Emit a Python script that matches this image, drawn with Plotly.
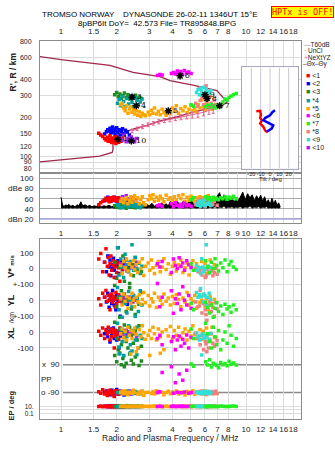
import plotly.graph_objects as go

W, H = 335, 451
FONT = "Liberation Sans, Arial, sans-serif"

# ---------------- axis ticks ----------------
FREQ_TICKS = [1, 1.5, 2, 3, 4, 5, 6, 7, 8, 10, 12, 14, 16, 18]
FREQ_TICKS_MID = [1, 1.5, 2, 3, 4, 5, 6, 7, 8, 9, 10, 12, 14, 16, 18]
HEIGHT_TICKS = [80, 90, 100, 120, 150, 200, 300, 400, 600, 800]
DB_TICKS = [20, 40, 60, 80, 100]
DB_TICKTEXT = ["dBn 20", "40", "60", "dBe 80", "100"]
TILT_TICKS = [-20, -10, 0, 10, 20]

# ---------------- model profile (dark red) ----------------
MODEL_F = [0.76, 1.0, 1.84, 2.45, 3.43, 3.88, 5.17, 6.96, 7.9, 7.4, 6.39, 5.17, 4.23,
           3.43, 2.92, 2.42, 2.0, 1.91, 1.91, 1.89, 1.62, 1.08, 0.76]
MODEL_H = [611, 578, 520, 458, 424, 395, 364, 329, 267, 250, 239, 223, 204,
           190, 175, 163, 145, 130, 113, 107, 100, 94, 90]

# ---------------- NeXtYZ (pink, with bars) ----------------
NEXT_F = [2.42, 2.58, 2.76, 2.95, 3.15, 3.38, 3.62, 3.88, 4.15, 4.45, 4.78, 5.12, 5.50, 5.90, 6.30, 6.65]
NEXT_H = [158, 165, 171, 177, 182, 187, 191, 195, 199, 203, 207, 211, 215, 222, 230, 236]
NEXT_ERR = [5, 5, 6, 6, 6, 7, 7, 8, 8, 9, 10, 11, 12, 14, 16, 18]

# ---------------- tilt inset ----------------
TILTX_DEG = [-14.7, -10.5, -9.8, -10.5, -8.7, -10.5, -7.0, -5.3, -2.8]
TILTX_H = [226, 228, 212, 200, 192, 181, 170, 160, 154]
TILTY_DEG = [5.3, 2.8, 0, -5.3, -7.0, -1.8, 3.5, 1.8, -1.8, -3.5]
TILTY_H = [230, 223, 210, 200, 192, 184, 175, 165, 160, 156]
TILT_RANGE = [-30, 30]
TILT_H_RANGE = [80, 500]

# ---------------- T60dB noise trace ----------------
NOISE_F = [1.00, 1.02, 1.04, 1.06, 1.08, 1.10, 1.13, 1.16, 1.19, 1.22, 1.25, 1.28, 1.31, 1.35, 1.39,
           1.43, 1.47, 1.51, 1.55, 1.60, 1.65, 1.70, 1.76, 1.82, 1.88, 1.94, 2.0, 2.1, 2.2, 2.3,
           2.4, 2.5, 2.6, 2.7, 2.8, 2.9, 3.0, 3.1, 3.2, 3.3, 3.4, 3.5, 3.6, 3.7, 3.8, 3.9, 4.0,
           4.2, 4.4, 4.6, 4.8, 5.0, 5.2, 5.4, 5.6, 5.8, 6.0, 6.2, 6.4, 6.6, 6.8, 7.0, 7.2, 7.4,
           7.6, 7.8, 8.0, 8.2, 8.4, 8.6, 8.8, 9.0, 9.3, 9.6, 9.9, 10.2, 10.5, 10.8, 11.1, 11.4,
           11.7, 12.0, 12.3, 12.6, 12.9, 13.2, 13.5, 13.8, 14.1, 14.4, 14.7, 15.0, 15.3]
NOISE_TOP = [63, 47, 45, 48, 46, 49, 45, 47, 44, 48, 46, 54, 46, 48, 45,
             47, 44, 46, 45, 47, 44, 46, 45, 47, 44, 46, 45, 47, 44, 46,
             45, 48, 44, 47, 45, 49, 46, 51, 45, 48, 46, 52, 47, 50, 46, 55, 48,
             58, 47, 56, 49, 60, 50, 57, 48, 62, 52, 64, 50, 61, 53, 66, 72, 55,
             68, 52, 62, 56, 64, 52, 60, 54, 63, 73, 58, 70, 62, 68, 56, 66,
             59, 67, 55, 64, 52, 58, 48, 61, 50, 57, 47, 52, 44]
NOISE_BASE = [42, 41, 42, 41, 42, 41, 42, 41, 42, 41, 42, 41, 42, 41, 42,
              41, 42, 41, 42, 41, 42, 41, 42, 41, 42, 41, 42, 41, 42, 41,
              42, 41, 42, 41, 42, 41, 42, 41, 42, 41, 42, 41, 42, 41, 42, 41, 42,
              41, 42, 41, 42, 41, 42, 41, 42, 41, 42, 41, 43, 41, 44, 41, 43, 42,
              45, 41, 43, 42, 44, 41, 43, 42, 44, 41, 43, 42, 45, 41, 43, 42,
              44, 41, 43, 42, 44, 41, 42, 41, 42, 41, 42, 41, 42]

# ---------------- echo classes: freq, height, amplitude, V*, YL, XL, PP, EP ----------------
RED_F = [1.60, 1.64, 1.68, 1.72, 1.75, 1.78, 1.80, 1.82, 1.84, 1.86, 1.88, 1.90, 1.92, 1.94, 1.96, 1.98, 2.00, 2.02, 2.05, 2.08, 2.11, 2.15]
RED_H = [152, 147, 143, 138, 134, 141, 131, 137, 145, 133, 128, 139, 135, 130, 142, 126, 134, 138, 129, 136, 131, 140]
RED_DB = [48, 52, 55, 58, 61, 57, 60, 54, 62, 58, 56, 60, 63, 57, 59, 61, 55, 58, 62, 56, 53, 50]
RED_V = [60, 95, -20, 40, 125, 15, 70, -40, 30, 80, -10, 50, 20, -56, 10, 45, -25, 35, 5, -80, 25, -5]
RED_YL = [10, -30, 45, 20, 62, -5, 30, 0, -60, 15, 40, -12, 25, 5, -40, 50, -20, 10, 35, -5, 20, 0]
RED_XL = [5, -20, 25, -40, 10, -10, 31, 0, -50, 15, -30, 20, -5, -100, 10, -25, 5, -15, -45, 25, -10, 0]
RED_PP = [-85, -95, -72, -100, -88, -110, -80, -92, -75, -98, -90, -105, -84, -116, -90, -78, -96, -88, -102, -82, -94, -90]
RED_EP = [10, 12, 8, 11, 9, 10, 13, 9, 11, 10, 8, 12, 10, 9, 11, 10, 12, 9, 10, 11, 8, 10]

BLUE_F = [1.72, 1.76, 1.79, 1.82, 1.84, 1.86, 1.88, 1.90, 1.92, 1.94, 1.96, 1.98, 2.00, 2.03, 2.06, 2.09, 2.12, 2.15, 2.19, 2.23, 2.28, 2.34]
BLUE_H = [150, 156, 162, 158, 166, 152, 160, 170, 155, 164, 148, 158, 168, 153, 162, 146, 157, 165, 150, 160, 155, 147]
BLUE_DB = [56, 60, 63, 58, 61, 55, 62, 59, 57, 63, 60, 56, 61, 58, 54, 60, 57, 52, 55, 58, 53, 50]
BLUE_V = [40, -20, 80, 10, 55, -45, 25, 0, 65, -10, 35, -56, 20, 50, -30, 15, 45, -5, 30, 60, -15, 5]
BLUE_YL = [20, -10, 45, -44, 5, 30, -20, 62, 0, -30, 15, -60, 35, -5, 25, -100, 10, -15, 40, 0, -25, 20]
BLUE_XL = [-10, 15, -30, 5, -62, 20, -20, 0, 25, -40, 10, -15, -50, 5, -100, -25, 15, -5, -35, 10, -20, 0]
BLUE_PP = [-90, -80, -98, -86, -104, -92, -76, -95, -88, -110, -84, -94, -70, -100, -90, -82, -96, -88, -106, -92, -86, -98]
BLUE_EP = [11, 9, 10, 12, 8, 10, 11, 9, 13, 10, 9, 11, 10, 12, 9, 10, 8, 11, 10, 9, 12, 10]

DGREEN_F = [1.95, 2.00, 2.04, 2.08, 2.12, 2.16, 2.20, 2.25, 2.30, 2.35, 2.40, 2.46, 2.52, 2.58, 2.64, 2.72]
DGREEN_H = [305, 318, 296, 310, 285, 300, 315, 290, 305, 282, 298, 288, 302, 280, 292, 285]
DGREEN_DB = [46, 43, 48, 42, 50, 44, 47, 41, 49, 45, 43, 48, 42, 46, 44, 47]
DGREEN_V = [40, -60, 131, 10, -30, 80, -80, 55, 0, -94, 25, -45, 70, -10, 35, -20]
DGREEN_YL = [94, -40, 20, -106, 60, -10, 40, -70, 5, 80, -55, 30, -90, 15, -25, 50]
DGREEN_XL = [62, -40, -112, 20, -80, 0, 45, -60, -100, 30, -20, -70, 10, -50, 40, -90]
DGREEN_PP = [150, 110, -90, 167, 90, 130, 77, 100, -88, 160, 120, 95, 140, -92, 85, 115]
DGREEN_EP = [10, 9, 11, 10, 12, 8, 10, 11, 9, 10, 13, 10, 9, 11, 10, 12]

TEAL_F = [2.02, 2.06, 2.10, 2.14, 2.18, 2.22, 2.27, 2.32, 2.37, 2.42, 2.47, 2.52, 2.57, 2.62, 2.68, 2.74]
TEAL_H = [262, 280, 250, 295, 270, 245, 285, 258, 300, 266, 248, 290, 275, 255, 268, 282]
TEAL_DB = [48, 44, 52, 42, 55, 46, 50, 43, 53, 47, 45, 51, 44, 49, 42, 46]
TEAL_V = [131, -40, 60, 10, -56, 90, 25, -20, 45, 150, -10, 70, 0, 35, -30, 15]
TEAL_YL = [81, -60, 20, -106, 40, -20, -80, 55, 0, -40, 30, -100, 10, -70, 60, -30]
TEAL_XL = [56, -94, 20, -60, -150, 0, -30, 40, -80, -120, 10, -50, 30, -100, -20, -40]
TEAL_PP = [-90, 160, -86, -94, 150, -100, -80, -92, 170, -88, -96, -84, 155, -90, -98, -82]
TEAL_EP = [10, 11, 9, 10, 12, 10, 8, 11, 10, 9, 12, 10, 11, 9, 10, 10]

ORANGE_F = [2.10, 2.14, 2.18, 2.22, 2.26, 2.30, 2.34, 2.38, 2.42, 2.46, 2.50, 2.55, 2.60, 2.65, 2.70, 2.75, 2.80, 2.86,
            2.96, 3.02, 3.08, 3.14, 3.20, 3.28, 3.36, 3.44, 3.52, 3.60, 3.70, 3.80, 3.90, 4.00,
            4.10, 4.20, 4.32, 4.44, 4.56, 4.68, 4.80, 4.92, 5.04, 5.16, 5.28, 5.40,
            5.52, 5.64, 5.76, 5.88, 6.00, 6.12, 6.25, 6.40, 6.55, 6.75]
ORANGE_H = [255, 262, 240, 228, 250, 218, 236, 245, 222, 232, 215, 228, 210, 224, 207, 218, 212, 208,
            222, 212, 230, 218, 240, 215, 226, 212, 235, 220, 210, 228, 216, 240,
            225, 250, 218, 238, 228, 245, 220, 235, 252, 228, 240, 225,
            255, 240, 278, 248, 232, 262, 285, 245, 236, 250]
ORANGE_DB = [55, 60, 52, 58, 62, 50, 57, 64, 53, 60, 66, 55, 62, 50, 58, 64, 52, 48,
             58, 66, 60, 68, 55, 63, 57, 65, 60, 54, 67, 59, 62, 56,
             64, 58, 66, 60, 68, 55, 63, 57, 65, 60, 54, 62,
             58, 64, 55, 62, 50, 60, 66, 57, 52, 60]
ORANGE_V = [20, -30, 45, 5, 60, -15, 30, -40, 10, 50, -5, 25, -25, 40, 0, 62, -44, 15,
            35, -10, 55, 5, -30, 20, 45, -20, 10, 62, -5, 30, -35, 15,
            40, -15, 25, 55, -25, 5, 35, -40, 20, 50, -10, 30,
            10, -20, 45, 0, 30, -30, 15, 55, -10, 25]
ORANGE_YL = [10, -30, 40, -5, 25, -50, 15, -20, 45, 0, -40, 20, -10, 35, -25, 5, 50, -15,
             30, -35, 10, -10, 45, -45, 20, 0, -25, 40, -5, 15, -30, 25,
             -20, 35, 5, -40, 15, -10, 50, -30, 10, -5, 30, -50,
             20, -15, 0, 35, -35, 10, -60, 25, -20, 5]
ORANGE_XL = [-10, 20, -35, 5, -50, 30, -20, 10, -40, 0, 25, -15, -100, 15, -30, 40, -5, -45,
             -20, 10, -40, 30, -10, -50, 20, -30, 0, -112, 15, -25, 35, -45,
             10, -20, 30, -35, -5, 20, -50, 5, -25, 40, -15, -40,
             -30, 15, -45, 5, -20, 25, -60, -10, 30, -35]
ORANGE_PP = [-90, -84, -98, -80, -92, -105, -88, 160, -95, -76, -90, 175, -100, -86, -94, -82, -110, -90,
             -88, 150, -96, -84, -100, -78, -92, 165, -88, -104, -90, -82, -98, -86,
             -94, -80, -100, -88, -92, -106, -84, -96, -90, -78, -102, -88,
             -92, -84, -98, -90, -80, -104, -88, -94, -86, -96]
ORANGE_EP = [10, 11, 9, 12, 10, 8, 11, 10, 9, 13, 10, 11, 9, 10, 12, 9, 10, 11,
             10, 9, 11, 10, 12, 9, 10, 11, 8, 10, 12, 9, 10, 11,
             9, 10, 12, 10, 8, 11, 10, 9, 12, 10, 11, 9,
             10, 12, 9, 11, 10, 8, 10, 12, 9, 11]

MAGENTA_F = [3.32, 3.42, 3.52, 3.95, 4.05, 4.15, 4.25, 4.35, 4.45, 4.55, 4.65, 4.78, 4.90, 5.05]
MAGENTA_H = [432, 440, 436, 448, 458, 445, 470, 452, 465, 442, 475, 455, 462, 448]
MAGENTA_DB = [46, 48, 45, 50, 44, 52, 47, 45, 49, 44, 51, 46, 48, 45]
MAGENTA_V = [30, 10, 45, -25, 60, 20, 0, 69, 15, 35, -10, 50, 25, 5]
MAGENTA_YL = [106, -40, 20, 60, -81, 10, -20, 40, -60, 85, 0, -30, 30, -50]
MAGENTA_XL = [-40, -20, -80, -60, -30, -112, -50, -25, -90, -45, -70, -19, -100, -35]
MAGENTA_PP = [-90, -85, 40, 77, -95, -26, -88, 30, -92, -10, -86, 55, -94, -90]
MAGENTA_EP = [10, 11, 9, 10, 12, 10, 9, 11, 10, 12, 9, 10, 11, 10]

GREEN_F = [5.05, 5.20, 6.05, 6.20, 6.35, 6.50, 6.65, 6.80, 6.95, 7.10, 7.30, 7.50, 7.70, 7.90, 8.10, 8.30, 8.55, 8.85]
GREEN_H = [255, 248, 246, 252, 242, 256, 248, 240, 252, 246, 255, 268, 282, 276, 290, 298, 305, 312]
GREEN_DB = [58, 62, 64, 60, 62, 57, 63, 59, 61, 58, 62, 60, 64, 59, 63, 61, 65, 60]
GREEN_V = [30, -10, 50, 10, -25, 40, 0, 62, 20, -15, 35, 5, 55, -20, 25, 45, 10, -5]
GREEN_YL = [-20, -60, -12, -45, -80, -30, -106, -50, -15, -70, -35, -90, -25, -55, -40, -75, -30, -60]
GREEN_XL = [20, -40, 56, -10, -60, -100, 30, -30, -80, 10, -112, -50, 0, -70, 40, -20, -90, -40]
GREEN_PP = [95, 80, 110, 88, 122, 75, 100, 92, 85, 70, 105, 90, 98, 84, 112, 94, 102, 88]
GREEN_EP = [10, 11, 10, 9, 12, 10, 11, 10, 9, 10, 12, 11, 10, 9, 10, 11, 12, 10]

SALMON_F = [5.35, 5.50, 5.65, 5.78, 5.90, 6.02, 6.14, 6.26, 6.38, 6.50, 6.62, 6.74, 6.86, 6.98, 5.60, 6.08]
SALMON_H = [262, 248, 275, 290, 255, 282, 268, 250, 295, 262, 245, 278, 256, 248, 340, 360]
SALMON_DB = [48, 55, 60, 52, 58, 45, 62, 50, 57, 53, 48, 55, 60, 47, 52, 58]
SALMON_V = [0, -20, 6, -40, -10, -56, -5, -30, 5, -15, -45, -25, 0, -35, -10, -50]
SALMON_YL = [-10, -40, 62, -80, -20, -60, -125, -30, -5, -70, -45, -100, -15, -55, -35, -90]
SALMON_XL = [-6, -40, -80, -20, -112, -60, -30, -100, -50, -10, -70, -90, -35, -55, -25, -75]
SALMON_PP = [-90, -86, -96, -80, -92, -100, 175, -88, -94, -84, -98, -90, -82, -96, -88, -92]
SALMON_EP = [10, 11, 9, 10, 12, 10, 11, 9, 10, 10, 12, 9, 11, 10, 10, 9]

CYAN_F = [5.40, 5.50, 5.60, 5.68, 5.76, 5.84, 5.92, 6.00, 6.10, 6.20, 6.32, 6.45]
CYAN_H = [318, 335, 305, 345, 326, 310, 350, 300, 338, 322, 312, 330]
CYAN_DB = [50, 47, 55, 45, 52, 48, 57, 46, 51, 49, 53, 47]
CYAN_V = [19, -10, 5, -31, 62, 10, -20, 0, 150, 15, -25, 8]
CYAN_YL = [50, 19, 35, 75, 25, -10, 40, 30, -30, 20, 45, 5]
CYAN_XL = [-6, -30, -50, -20, -144, -10, -40, -25, -35, -15, -45, -8]
CYAN_PP = [-90, -86, -96, -88, -92, -100, -84, -94, -90, -82, -98, -88]
CYAN_EP = [10, 11, 9, 10, 12, 10, 11, 9, 10, 10, 12, 11]

PURPLE_F = [2.10, 2.15, 2.20, 2.25, 2.30, 2.35, 2.40, 2.45, 2.50, 2.56]
PURPLE_H = [140, 134, 146, 130, 138, 132, 142, 136, 130, 138]
PURPLE_DB = [58, 64, 52, 66, 60, 48, 62, 55, 50, 57]
PURPLE_V = [30, 10, 45, 20, -10, 35, 5, 25, 15, 40]
PURPLE_YL = [5, -15, 20, 0, 10, -5, 15, -10, 0, 10]
PURPLE_XL = [-15, 0, -25, 10, -5, -20, 5, -10, 0, -30]
PURPLE_PP = [-90, -84, -96, -88, -92, -80, -100, -90, -86, -94]
PURPLE_EP = [10, 11, 9, 10, 12, 10, 9, 11, 10, 10]

# black cluster markers with labels
STAR_F = [2.03, 2.42, 2.55, 3.80, 4.40, 7.20, 6.15, 6.00, 2.40]
STAR_H = [136, 292, 250, 228, 430, 250, 285, 305, 132]
STAR_LBL = ["1", "3", "4", "5", "6", "7", "8", "9", "10"]

LEGEND_LABELS = ["&lt;1", "&lt;2", "&lt;3", "*4", "*5", "&lt;6", "*7", "*8", "&lt;9", "&lt;10"]

GROUPS = [
    ("#0000ff", BLUE_F, BLUE_H, BLUE_DB, BLUE_V, BLUE_YL, BLUE_XL, BLUE_PP, BLUE_EP),
    ("#ff0000", RED_F, RED_H, RED_DB, RED_V, RED_YL, RED_XL, RED_PP, RED_EP),
    ("#a020f0", PURPLE_F, PURPLE_H, PURPLE_DB, PURPLE_V, PURPLE_YL, PURPLE_XL, PURPLE_PP, PURPLE_EP),
    ("#1e8c1e", DGREEN_F, DGREEN_H, DGREEN_DB, DGREEN_V, DGREEN_YL, DGREEN_XL, DGREEN_PP, DGREEN_EP),
    ("#00a0a0", TEAL_F, TEAL_H, TEAL_DB, TEAL_V, TEAL_YL, TEAL_XL, TEAL_PP, TEAL_EP),
    ("#ffa500", ORANGE_F, ORANGE_H, ORANGE_DB, ORANGE_V, ORANGE_YL, ORANGE_XL, ORANGE_PP, ORANGE_EP),
    ("#ff00ff", MAGENTA_F, MAGENTA_H, MAGENTA_DB, MAGENTA_V, MAGENTA_YL, MAGENTA_XL, MAGENTA_PP, MAGENTA_EP),
    ("#f08080", SALMON_F, SALMON_H, SALMON_DB, SALMON_V, SALMON_YL, SALMON_XL, SALMON_PP, SALMON_EP),
    ("#30e0d8", CYAN_F, CYAN_H, CYAN_DB, CYAN_V, CYAN_YL, CYAN_XL, CYAN_PP, CYAN_EP),
    ("#22ee22", GREEN_F, GREEN_H, GREEN_DB, GREEN_V, GREEN_YL, GREEN_XL, GREEN_PP, GREEN_EP),
]
LEGEND_COLORS = ["#ff0000", "#0000ff", "#1e8c1e", "#00a0a0", "#ffa500", "#ff00ff",
                 "#22ee22", "#f08080", "#30e0d8", "#a020f0"]


# ---------------- geometry helpers ----------------
def xp(px):
    return px / W


def yp(py):
    return 1 - py / H


fig = go.Figure()
MS = 3.5

# ---- top panel ----
fig.add_trace(go.Scatter(x=MODEL_F, y=MODEL_H, mode="lines", xaxis="x", yaxis="y",
                         line=dict(color="#a0284a", width=1.3), hoverinfo="skip"))
for col, f, h, db, v, yl, xl, pp, ep in GROUPS:
    fig.add_trace(go.Scatter(x=f, y=h, mode="markers", xaxis="x", yaxis="y",
                             marker=dict(symbol="square", size=MS, color=col, line=dict(width=0))))
fig.add_trace(go.Scatter(x=NEXT_F, y=NEXT_H, mode="lines", xaxis="x", yaxis="y",
                         line=dict(color="#e0608a", width=1),
                         error_y=dict(type="data", array=NEXT_ERR, color="#e0608a", thickness=1, width=1.5)))
fig.add_trace(go.Scatter(x=STAR_F, y=STAR_H, mode="markers+text", xaxis="x", yaxis="y",
                         text=STAR_LBL, textposition="middle right",
                         textfont=dict(size=8, color="black", family="DejaVu Serif"),
                         marker=dict(symbol="asterisk-open", size=6, color="black",
                                     line=dict(width=1.5, color="black"))))

# ---- tilt inset: white backdrop, grid, profiles ----
fig.add_trace(go.Scatter(x=[TILT_RANGE[0], TILT_RANGE[1], TILT_RANGE[1], TILT_RANGE[0]],
                         y=[TILT_H_RANGE[0], TILT_H_RANGE[0], TILT_H_RANGE[1], TILT_H_RANGE[1]],
                         mode="lines", fill="toself", fillcolor="white",
                         line=dict(width=0, color="white"), xaxis="x4", yaxis="y8", hoverinfo="skip"))
for tv in TILT_TICKS:
    fig.add_trace(go.Scatter(x=[tv, tv], y=TILT_H_RANGE, mode="lines", xaxis="x4", yaxis="y8",
                             line=dict(color="#c8c8d4", width=1), hoverinfo="skip"))
fig.add_trace(go.Scatter(x=TILTX_DEG, y=TILTX_H, mode="lines", xaxis="x4", yaxis="y8",
                         line=dict(color="#ff0000", width=2.5)))
fig.add_trace(go.Scatter(x=TILTY_DEG, y=TILTY_H, mode="lines", xaxis="x4", yaxis="y8",
                         line=dict(color="#0000ff", width=2.5)))

# ---- amplitude panel ----
fig.add_trace(go.Scatter(x=NOISE_F, y=NOISE_BASE, mode="lines", xaxis="x2", yaxis="y2",
                         line=dict(color="black", width=0.5)))
fig.add_trace(go.Scatter(x=NOISE_F, y=NOISE_TOP, mode="lines", xaxis="x2", yaxis="y2",
                         fill="tonexty", fillcolor="black", line=dict(color="black", width=1)))
for col, f, h, db, v, yl, xl, pp, ep in GROUPS:
    fig.add_trace(go.Scatter(x=f, y=db, mode="markers", xaxis="x2", yaxis="y2",
                             marker=dict(symbol="square", size=MS, color=col, line=dict(width=0))))

# ---- lower panels ----
for col, f, h, db, v, yl, xl, pp, ep in GROUPS:
    for vals, ya in ((v, "y3"), (yl, "y4"), (xl, "y5"), (pp, "y6"), (ep, "y7")):
        fig.add_trace(go.Scatter(x=f, y=vals, mode="markers", xaxis="x3", yaxis=ya,
                                 marker=dict(symbol="square", size=MS, color=col, line=dict(width=0))))

# ---------------- axes ----------------
XR = [-0.1135, 1.297]
XDOM = [xp(40), xp(301)]
tickfont = dict(size=8, family=FONT, color="#222")
tickfont_small = dict(size=7, family=FONT, color="#222")
GRID = "#dcdcdc"
FRAME = "#8c8c8c"


def xax(anchor, side, ticks):
    return dict(type="log", range=XR, domain=XDOM, anchor=anchor, side=side,
                tickvals=ticks, ticktext=[str(t) for t in ticks], tickangle=0,
                tickfont=tickfont, showgrid=True, gridcolor=GRID, gridwidth=1, zeroline=False,
                showline=True, linecolor=FRAME, mirror=True, ticks="outside", ticklen=2,
                tickcolor="rgba(0,0,0,0)")


def yax(rng, tickvals, ticktext, typ="linear", font=tickfont):
    return dict(type=typ, range=rng, anchor="x3", overlaying="y3",
                tickvals=tickvals, ticktext=ticktext, tickfont=font,
                showgrid=True, gridcolor=GRID, gridwidth=1, zeroline=False,
                showline=False, ticks="outside", ticklen=4, tickcolor="rgba(0,0,0,0)")


MID = [yp(420), yp(238)]
layout_axes = dict(
    xaxis=xax("y", "top", FREQ_TICKS),
    xaxis2=xax("y2", "bottom", FREQ_TICKS_MID),
    xaxis3=xax("y3", "bottom", FREQ_TICKS),
    xaxis4=dict(domain=[xp(242), xp(298)], range=TILT_RANGE, anchor="y8", side="bottom",
                tickvals=TILT_TICKS, ticktext=[str(t) for t in TILT_TICKS], tickangle=0,
                tickfont=dict(size=5.5, family=FONT, color="#222"), showgrid=False,
                zeroline=False, showline=True, linecolor="#a8a8bc",
                mirror=True, ticks="", ticklen=0),
    yaxis=dict(type="log", domain=[yp(172), yp(38)], range=[1.864, 2.911], anchor="x",
               tickvals=HEIGHT_TICKS, ticktext=[str(t) for t in HEIGHT_TICKS], tickfont=tickfont_small,
               showgrid=True, gridcolor=GRID, zeroline=False, showline=True, linecolor=FRAME,
               mirror=True, ticks="outside", ticklen=6, tickcolor="rgba(0,0,0,0)"),
    yaxis2=dict(domain=[yp(222), yp(172)], range=[12, 110], anchor="x2",
                tickvals=DB_TICKS, ticktext=DB_TICKTEXT, tickfont=tickfont,
                showgrid=True, gridcolor="#a8a8a8", zeroline=False, showline=True,
                linecolor=FRAME, mirror=True, ticks="outside", ticklen=4,
                tickcolor="rgba(0,0,0,0)"),
    yaxis3=dict(domain=MID, range=[-950, 187.5], anchor="x3",
                tickvals=[100, 0, -100], ticktext=["100", "0", "+-100"], tickfont=tickfont,
                showgrid=True, gridcolor=GRID, zeroline=False, showline=True, linecolor=FRAME,
                mirror=True, ticks="outside", ticklen=4, tickcolor="rgba(0,0,0,0)"),
    yaxis4=yax([-750, 387.5], [0, -100], ["0", "+-100"]),
    yaxis5=yax([-550, 587.5], [0, -100], ["0", "-100"]),
    yaxis6=dict(range=[-263.6, 906.4], anchor="x3", overlaying="y3",
                showticklabels=False, showgrid=False, zeroline=False, showline=False),
    yaxis7=yax([-2.714, 49.29], [10, 1, 0.1], ["10.", "", "0.1"], typ="log",
               font=dict(size=6.5, family=FONT, color="#222")),
    yaxis8=dict(type="log", domain=[yp(167), yp(65)], range=[1.903, 2.700], anchor="x4",
                showticklabels=False, showgrid=False, zeroline=False, showline=True,
                linecolor="#a8a8bc", mirror=True),
)

# ---------------- shapes ----------------
shapes = [
    dict(type="line", xref="paper", yref="y2", x0=xp(40), x1=xp(301), y0=20, y1=20,
         line=dict(color="#a8a8e0", width=1.5), layer="above"),
    dict(type="line", xref="paper", yref="y6", x0=xp(63), x1=xp(301), y0=90, y1=90,
         line=dict(color="#8a8a8a", width=1.5), layer="below"),
    dict(type="line", xref="paper", yref="y6", x0=xp(63), x1=xp(301), y0=-90, y1=-90,
         line=dict(color="#8a8a8a", width=1.5), layer="below"),
]

# ---------------- annotations ----------------
ann = []


def text(x, y, s, size=8, color="#222", xanchor="center", angle=0, bold=False, family=FONT):
    ann.append(dict(x=xp(x), y=yp(y), xref="paper", yref="paper",
                    text=("<b>%s</b>" % s) if bold else s,
                    showarrow=False, xanchor=xanchor, yanchor="middle", textangle=angle,
                    font=dict(size=size, color=color, family=family)))


text(150, 12, "TROMSO NORWAY    DYNASONDE 26-02-11 1346UT 15°E", size=8, color="black")
text(157, 20.5, "8pBP6It DoY=  42.573 File= TR895848.BPG", size=8, color="black")
ann.append(dict(x=xp(302), y=yp(9.5), xref="paper", yref="paper", text="HPTx is OFF!",
                showarrow=False, xanchor="center", yanchor="middle",
                font=dict(size=8.5, color="#ff0000", family="DejaVu Sans Mono"),
                bgcolor="#ffff00", bordercolor="#ff0000", borderwidth=1, borderpad=0))

text(13, 70, "R', R / km", size=8.5, angle=-90, bold=True)
text(11, 266, "V* <span style='font-size:6px'>m/s</span>", size=9, angle=-90, bold=True)
text(11, 300, "YL", size=9, angle=-90, bold=True)
text(11, 318, "/km", size=7, angle=-90)
text(11, 333, "XL", size=9, angle=-90, bold=True)
text(46, 380, "PP", size=8)
text(11, 406, "EP / deg", size=7.5, angle=-90, bold=True)
for yv, s in ((90, "x  90"), (-90, "o -90")):
    ann.append(dict(x=xp(62), y=yv, xref="paper", yref="y6", text=s, showarrow=False,
                    xanchor="right", yanchor="middle", font=dict(size=8, family=FONT, color="#222")))
text(170.5, 439, "Radio and Plasma Frequency / MHz", size=8.5)
text(270, 178, "Tilt / deg", size=6)

# legend (as text)
LS = 6.5
text(302, 42, "<span style='color:#999'>—</span>T60dB", size=LS, xanchor="left")
text(302, 48, "<span style='color:#666'>·</span> UnCl", size=LS, xanchor="left")
text(302, 54.5, "<span style='color:#e0608a'>+</span>NeXtYZ", size=LS, xanchor="left")
text(301, 61.5, "<span style='color:#a0284a'>–</span>Θx<span style='color:#4040ff'>–</span>Θy",
     size=LS, xanchor="left")
LEG_Y = [73, 81, 89, 98, 106, 114, 122, 130, 138, 146]
for lbl, col, yy in zip(LEGEND_LABELS, LEGEND_COLORS, LEG_Y):
    text(304, yy, "<span style='color:%s'>■</span> %s" % (col, lbl), size=7, xanchor="left")

fig.update_layout(
    width=W, height=H, margin=dict(l=0, r=0, t=0, b=0),
    paper_bgcolor="white", plot_bgcolor="white", showlegend=False,
    shapes=shapes, annotations=ann, **layout_axes,
)

fig.write_html("out.html")
